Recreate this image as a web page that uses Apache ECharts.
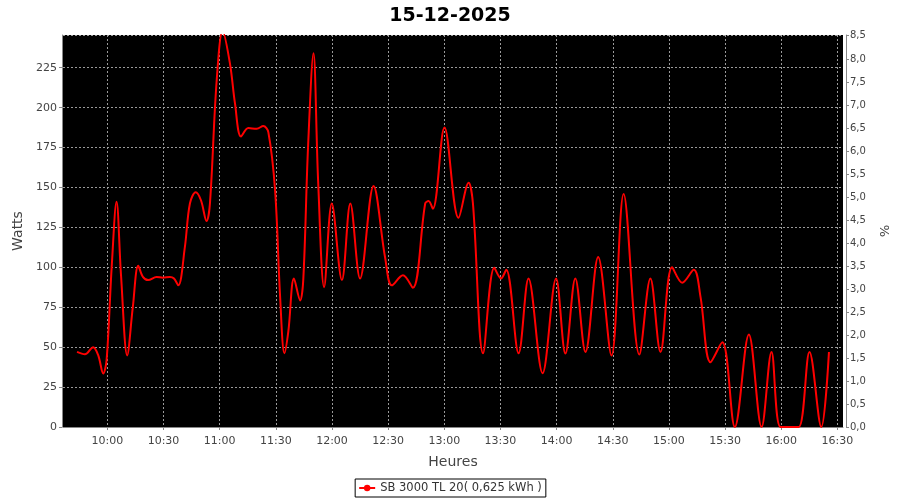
<!DOCTYPE html>
<html>
<head>
<meta charset="utf-8">
<script src="https://cdn.jsdelivr.net/npm/echarts@6/dist/echarts.min.js"></script>
<style>html,body{margin:0;padding:0;background:#fff;}#chart{width:900px;height:500px;}</style>
</head>
<body>
<div id="chart"></div>
<script>
// Time of each reading, minutes since midnight
const times = [583.8, 588.0, 592.4, 595.1, 597.8, 599.6, 602.3, 604.9, 607.3, 610.6, 613.6, 616.5, 619.0, 621.8,
  626.3, 629.7, 633.4, 635.6, 637.9, 641.4, 644.1, 647.2, 650.0, 653.0, 654.8, 658.4, 661.6, 665.5, 668.2,
  671.4, 675.3, 679.8, 683.3, 686.0, 689.6, 692.3, 694.6, 696.7, 699.7, 703.0, 704.7, 707.2, 710.1, 712.6,
  715.8, 719.9, 725.3, 729.8, 735.0, 742.2, 748.4, 752.0, 757.9, 763.2, 769.8, 771.6, 773.9, 780.1, 787.6,
  793.0, 795.3, 800.7, 806.7, 810.3, 813.1, 819.7, 825.0, 832.5, 839.7, 844.7, 850.0, 855.4, 862.2, 869.3,
  875.8, 884.2, 890.1, 895.5, 901.7, 907.1, 913.3, 916.9, 922.2, 928.5, 935.2, 942.7, 949.5, 954.8, 959.6,
  965.0, 969.4, 975.1, 981.4, 985.5];
// Power (W)
const watts = [47, 45.5, 50, 45, 33.5, 42, 100, 141, 95, 44.8, 75, 101, 94, 92,
  94, 93.5, 94, 93, 88.7, 112.6, 140, 147, 142, 129, 140, 217, 248, 227.6, 202.5,
  182, 187.2, 186.8, 188.5, 184.7, 148.2, 81.3, 46.2, 60, 93, 79.3, 93, 175, 234, 154,
  87.6, 140, 92, 140, 93, 151, 106, 88.7, 95, 87.2, 140, 141.5, 136.7, 187.5, 131,
  153, 140, 46.2, 99.7, 93, 98.5, 46.2, 93, 33.7, 93, 46, 93, 47, 106.4, 44.8,
  146, 45.4, 93, 47, 100, 90.4, 98.5, 81.3, 40.6, 53, 0, 58, 0, 47, 0,
  0, 0, 47, 0, 47];
const tickLabels = ['10:00','10:30','11:00','11:30','12:00','12:30','13:00','13:30','14:00','14:30','15:00','15:30','16:00','16:30'];
const seriesName = 'SB 3000 TL 20( 0,625 kWh )';
const titleText = '15-12-2025';

const toMin = s => { const p = s.split(':'); return Number(p[0]) * 60 + Number(p[1]); };
const tickMinutes = tickLabels.map(toMin);
const fmtTime = v => { const h = Math.floor(v / 60), m = Math.round(v - h * 60); return h + ':' + (m < 10 ? '0' : '') + m; };

const font = 'DejaVu Sans';
const chart = echarts.init(document.getElementById('chart'), null, {renderer: 'canvas'});
chart.setOption({
  animation: false,
  backgroundColor: '#ffffff',
  title: {
    text: titleText, left: 'center', top: 2,
    textStyle: {fontFamily: font, fontSize: 19, fontWeight: 'bold', color: '#000'}
  },
  legend: {
    bottom: 3, left: 'center',
    data: [seriesName],
    borderColor: '#000', borderWidth: 1, borderRadius: 0,
    padding: [3, 4, 3, 3], itemWidth: 16, itemHeight: 8, itemGap: 4,
    backgroundColor: '#fff',
    textStyle: {fontFamily: font, fontSize: 11.5, color: '#333'}
  },
  grid: {left: 63, right: 57, top: 35, bottom: 73, show: true, backgroundColor: '#000', borderWidth: 0},
  xAxis: {
    type: 'value', min: 576.3, max: 993.0,
    offset: 1,
    name: 'Heures', nameLocation: 'middle', nameGap: 27,
    nameTextStyle: {fontFamily: font, fontSize: 14, color: '#444'},
    axisLine: {show: true, lineStyle: {color: '#888', width: 1}},
    axisTick: {show: true, length: 3, lineStyle: {color: '#888'}, customValues: tickMinutes},
    axisLabel: {fontFamily: font, fontSize: 11, color: '#444', margin: 8, customValues: tickMinutes, formatter: v => fmtTime(v)},
    splitLine: {show: true, lineStyle: {color: '#9a9a9a', type: [2, 2], width: 1}}
  },
  yAxis: [{
    type: 'value', min: 0, max: 245.5, interval: 25,
    offset: 1,
    name: 'Watts', nameLocation: 'middle', nameGap: 34, nameRotate: 90,
    nameTextStyle: {fontFamily: font, fontSize: 14, color: '#444'},
    axisLine: {show: true, lineStyle: {color: '#888', width: 1}},
    axisTick: {show: true, length: 3, lineStyle: {color: '#888'}},
    axisLabel: {fontFamily: font, fontSize: 11, color: '#444', margin: 5, showMaxLabel: false},
    splitLine: {show: true, lineStyle: {color: '#9a9a9a', type: [2, 2], width: 1}}
  }, {
    type: 'value', min: 0, max: 8.52, interval: 0.5, position: 'right',
    offset: 3,
    name: '%', nameLocation: 'middle', nameGap: 29, nameRotate: -90,
    nameTextStyle: {fontFamily: font, fontSize: 13, color: '#444'},
    axisLine: {show: true, lineStyle: {color: '#888', width: 1}},
    axisTick: {show: true, length: 3, lineStyle: {color: '#888'}},
    axisLabel: {fontFamily: font, fontSize: 10, color: '#444', margin: 4, showMaxLabel: true,
      formatter: v => v.toFixed(1).replace('.', ',')},
    splitLine: {show: false}
  }],
  series: [{
    name: seriesName, type: 'line', yAxisIndex: 0,
    data: times.map((t, i) => [t, watts[i]]),
    smooth: 0.35, showSymbol: false, symbol: 'circle', symbolSize: 4,
    lineStyle: {color: '#ff0000', width: 2},
    itemStyle: {color: '#ff0000'},
    clip: true
  }]
});
</script>
</body>
</html>
